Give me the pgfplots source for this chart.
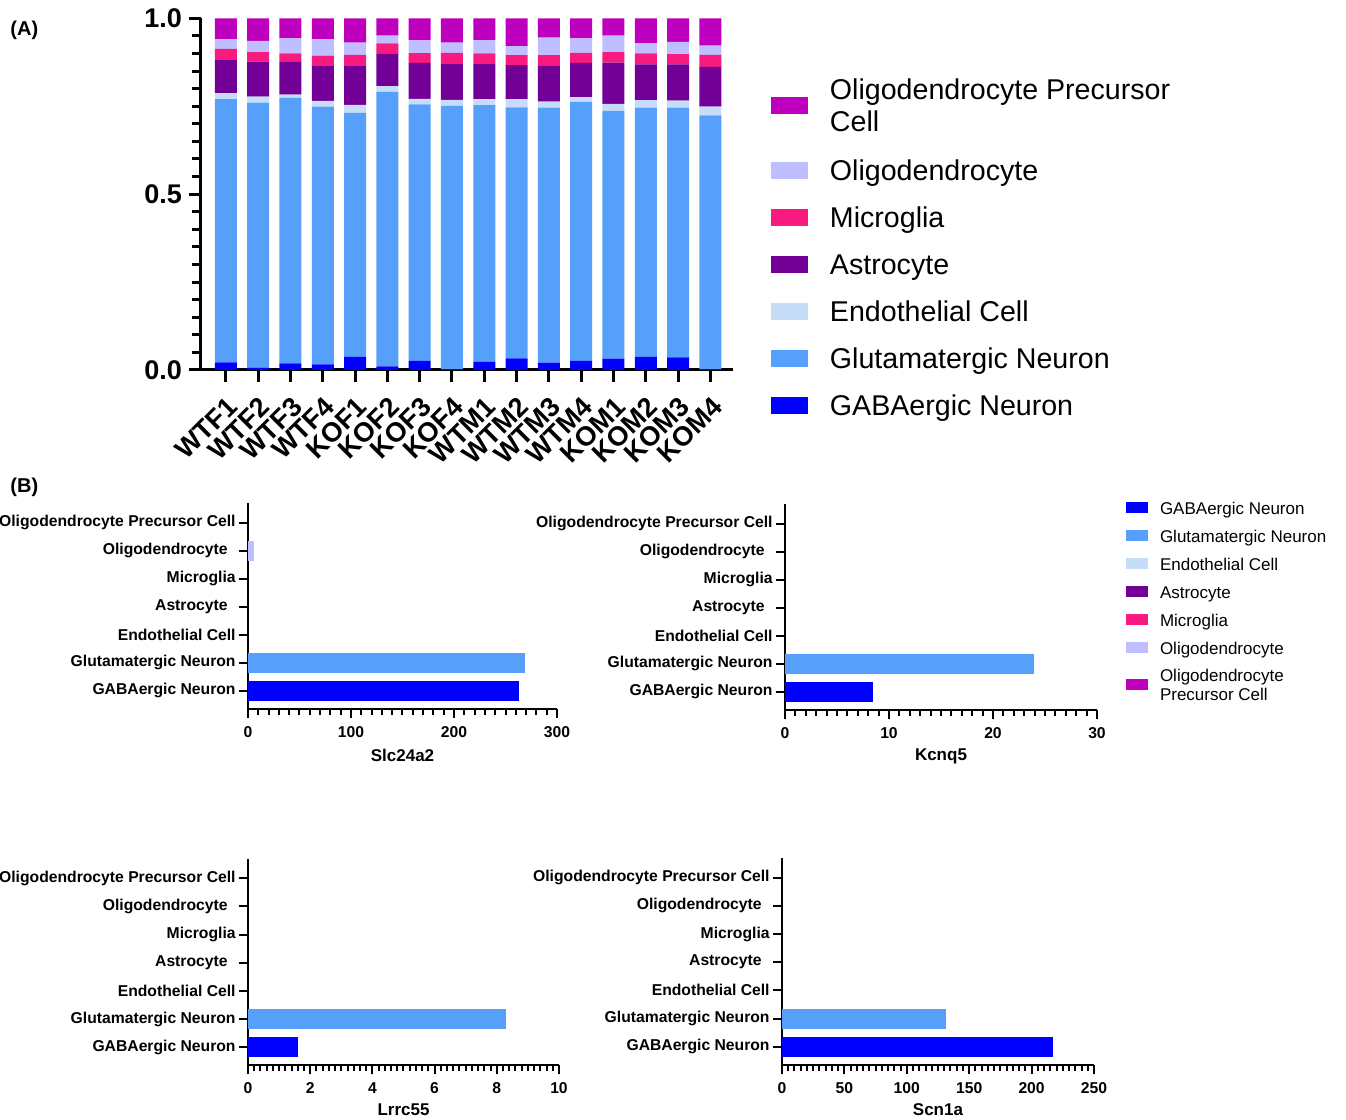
\documentclass[border=0pt]{standalone}
\usepackage{fontspec}
\setmainfont{Liberation Sans}
\usepackage{pgfplots}
\usepackage{pgfplotstable}
\pgfplotsset{compat=1.18}

\definecolor{cGABA}{RGB}{0,0,255}
\definecolor{cGlut}{RGB}{86,159,250}
\definecolor{cEndo}{RGB}{198,221,248}
\definecolor{cAstro}{RGB}{115,0,150}
\definecolor{cMicro}{RGB}{248,26,126}
\definecolor{cOlig}{RGB}{191,191,255}
\definecolor{cOPC}{RGB}{190,0,190}

\pgfplotstableread{
idx GABA Glut Endo Astro Micro Olig OPC
0  0.022 0.748 0.017 0.096 0.030 0.027 0.060
1  0.007 0.753 0.017 0.100 0.027 0.032 0.064
2  0.019 0.755 0.009 0.093 0.024 0.043 0.057
3  0.016 0.733 0.016 0.101 0.028 0.046 0.060
4  0.037 0.694 0.023 0.112 0.030 0.035 0.069
5  0.010 0.781 0.016 0.092 0.030 0.022 0.049
6  0.026 0.729 0.016 0.102 0.028 0.036 0.063
7  0.002 0.749 0.017 0.104 0.030 0.029 0.069
8  0.024 0.729 0.017 0.102 0.028 0.038 0.062
9  0.033 0.714 0.023 0.097 0.028 0.026 0.079
10 0.021 0.725 0.017 0.102 0.030 0.050 0.055
11 0.026 0.736 0.014 0.097 0.029 0.041 0.057
12 0.032 0.705 0.020 0.117 0.030 0.047 0.049
13 0.037 0.709 0.021 0.102 0.031 0.029 0.071
14 0.036 0.710 0.020 0.103 0.029 0.035 0.067
15 0.002 0.722 0.025 0.113 0.034 0.026 0.078
}\dataA

\pgfplotsset{
  bpanel/.style={
    scale only axis, anchor=south west,
    xbar, bar width=10pt,
    ymin=-0.65, ymax=6.7,
    ytick={0,...,6},
    yticklabels={GABAergic Neuron, Glutamatergic Neuron, Endothelial Cell, Astrocyte\hspace*{4pt}, Microglia, Oligodendrocyte\hspace*{4pt}, Oligodendrocyte Precursor Cell},
    axis x line*=bottom, axis y line*=left,
    axis line style={line width=1pt, black},
    tick align=outside,
    tick style={black, line width=1pt},
    major tick length=4.5pt, minor tick length=3pt,
    minor x tick num=9,
    tick label style={font=\bfseries\fontsize{7.85}{9}\selectfont},
    /pgf/number format/assume math mode=true,
    xticklabel style={yshift=-0.5pt},
    yticklabel style={inner sep=1.5pt},
    xlabel style={font=\bfseries\fontsize{8.5}{10}\selectfont, anchor=center},
    clip=false,
  },
  bbar/.style={xbar, bar shift=0pt, draw=none, fill=#1},
}

\begin{document}
\begin{tikzpicture}
\useasboundingbox (0pt,0pt) rectangle (673pt,560pt);

\node[anchor=west, inner sep=0pt, font=\bfseries\fontsize{10}{12}\selectfont] at (5pt,545pt) {(A)};
\node[anchor=west, inner sep=0pt, font=\bfseries\fontsize{10}{12}\selectfont] at (5pt,316.5pt) {(B)};

% ---------------- Panel A ----------------
\begin{axis}[
  at={(100.5pt,375pt)}, anchor=south west, scale only axis,
  width=266pt, height=175.85pt,
  ybar stacked, bar width=11pt,
  xmin=-0.77, xmax=15.7, ymin=0, ymax=1,
  axis x line*=bottom, axis y line*=left,
  axis line style={line width=1.5pt, black},
  xtick={0,...,15},
  xticklabels={WTF1,WTF2,WTF3,WTF4,KOF1,KOF2,KOF3,KOF4,WTM1,WTM2,WTM3,WTM4,KOM1,KOM2,KOM3,KOM4},
  ytick={0,0.5,1}, yticklabels={0.0,0.5,1.0},
  minor y tick num=9,
  tick align=outside,
  major tick length=6pt, minor tick length=4.5pt,
  tick style={line width=1.5pt, black},
  xticklabel style={yshift=-5pt, rotate=45, anchor=north east, inner sep=1pt, font=\bfseries\fontsize{13.6}{13}\selectfont},
  yticklabel style={font=\bfseries\fontsize{13.5}{13}\selectfont},
  legend style={at={(1.0714,0.850)}, anchor=north west, draw=none, fill=none,
    inner sep=0pt, outer sep=0pt, font=\fontsize{14.3}{16}\selectfont,
    row sep=7.5pt, column sep=11pt,
    nodes={inner sep=0pt, outer sep=0pt, text height=13.1pt, text depth=2.9pt}},
  legend cell align=left,
  reverse legend,
  legend image code/.code={\fill[#1] (0pt,-4.25pt) rectangle (18.5pt,4.25pt);},
]
\addplot[fill=cGABA, draw=none] table[x=idx, y=GABA] {\dataA};
\addlegendentry{GABAergic Neuron}
\addplot[fill=cGlut, draw=none] table[x=idx, y=Glut] {\dataA};
\addlegendentry{Glutamatergic Neuron}
\addplot[fill=cEndo, draw=none] table[x=idx, y=Endo] {\dataA};
\addlegendentry{Endothelial Cell}
\addplot[fill=cAstro, draw=none] table[x=idx, y=Astro] {\dataA};
\addlegendentry{Astrocyte}
\addplot[fill=cMicro, draw=none] table[x=idx, y=Micro] {\dataA};
\addlegendentry{Microglia}
\addplot[fill=cOlig, draw=none] table[x=idx, y=Olig] {\dataA};
\addlegendentry{Oligodendrocyte}
\addplot[fill=cOPC, draw=none] table[x=idx, y=OPC] {\dataA};
\addlegendentry[text height=22.5pt, text depth=11.5pt]{\begin{tabular}{@{}l@{}}Oligodendrocyte Precursor\\Cell\end{tabular}}
\end{axis}

% ---------------- Panel B1: Slc24a2 ----------------
\begin{axis}[bpanel, at={(124pt,205.5pt)}, width=154.5pt, height=103pt,
  xmin=0, xmax=300, xtick={0,100,200,300}, xlabel={Slc24a2},
  xlabel style={at={(axis description cs:0.5,-0.223)}}]
\addplot[bbar=cGABA] coordinates {(263.5,0)};
\addplot[bbar=cGlut] coordinates {(269,1)};
\addplot[bbar=cOlig] coordinates {(6,5)};
\end{axis}

% ---------------- Panel B2: Kcnq5 ----------------
\begin{axis}[bpanel, at={(392.5pt,205pt)}, width=156pt, height=103pt,
  xmin=0, xmax=30, xtick={0,10,20,30}, xlabel={Kcnq5},
  xlabel style={at={(axis description cs:0.5,-0.223)}},
  legend style={at={(1.093,1.027)}, anchor=north west, draw=none, fill=none,
    inner sep=0pt, outer sep=0pt, font=\fontsize{8.5}{9.5}\selectfont,
    row sep=4.5pt, column sep=6pt,
    nodes={inner sep=0pt, outer sep=0pt, text height=7.8pt, text depth=1.7pt}},
  legend cell align=left,
  legend image code/.code={\fill[#1] (0pt,-2.75pt) rectangle (11pt,2.75pt);},
]
\addplot[bbar=cGABA, forget plot] coordinates {(8.5,0)};
\addplot[bbar=cGlut, forget plot] coordinates {(23.9,1)};
\addlegendimage{fill=cGABA, draw=none}
\addlegendentry{GABAergic Neuron}
\addlegendimage{fill=cGlut, draw=none}
\addlegendentry{Glutamatergic Neuron}
\addlegendimage{fill=cEndo, draw=none}
\addlegendentry{Endothelial Cell}
\addlegendimage{fill=cAstro, draw=none}
\addlegendentry{Astrocyte}
\addlegendimage{fill=cMicro, draw=none}
\addlegendentry{Microglia}
\addlegendimage{fill=cOlig, draw=none}
\addlegendentry{Oligodendrocyte}
\addlegendimage{fill=cOPC, draw=none}
\addlegendentry[text height=12.54pt, text depth=5.96pt]{\begin{tabular}{@{}l@{}}Oligodendrocyte\\Precursor Cell\end{tabular}}
\end{axis}

% ---------------- Panel B3: Lrrc55 ----------------
\begin{axis}[bpanel, at={(124pt,27.25pt)}, width=155.5pt, height=103.5pt,
  xmin=0, xmax=10, xtick={0,2,4,6,8,10}, xlabel={Lrrc55},
  xlabel style={at={(axis description cs:0.5,-0.215)}}]
\addplot[bbar=cGABA] coordinates {(1.6,0)};
\addplot[bbar=cGlut] coordinates {(8.3,1)};
\end{axis}

% ---------------- Panel B4: Scn1a ----------------
\begin{axis}[bpanel, at={(391pt,27.5pt)}, width=156pt, height=103.5pt,
  xmin=0, xmax=250, xtick={0,50,100,150,200,250}, xlabel={Scn1a},
  xlabel style={at={(axis description cs:0.5,-0.217)}}]
\addplot[bbar=cGABA] coordinates {(217.4,0)};
\addplot[bbar=cGlut] coordinates {(131.3,1)};
\end{axis}
\end{tikzpicture}
\end{document}
